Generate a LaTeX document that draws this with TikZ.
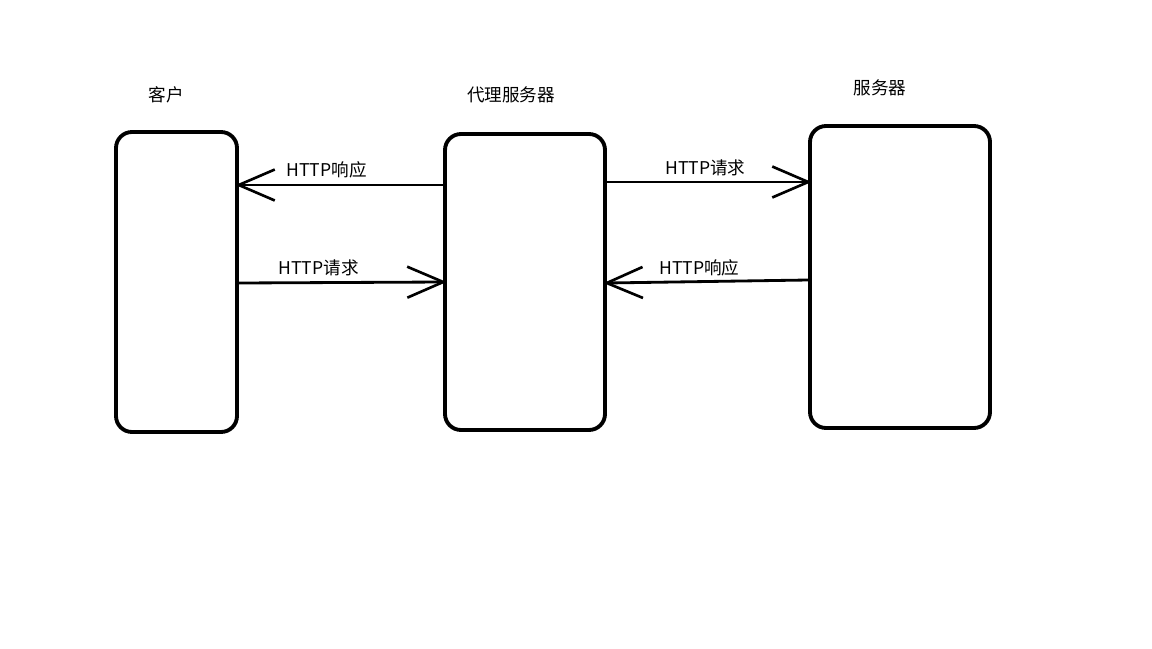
\documentclass[tikz,border=0pt]{standalone}
\usepackage{fontspec}
\setmainfont{Noto Sans CJK SC}
\usetikzlibrary{arrows.meta, positioning, calc}

\begin{document}
\begin{tikzpicture}[
    box/.style={draw, line width=2.2pt, rounded corners=0.32cm, inner sep=0pt},
    msg/.style={line width=1.6pt, shorten >=-2pt, -{Straight Barb[length=0.72cm, width=0.62cm, line width=1.5pt]}},
    lbl/.style={font=\fontsize{10}{12}\selectfont, inner sep=1pt}
]

        % Rahmen des Bildes
        \useasboundingbox (0,0) rectangle (23.04,-12.96);

        % Kästen
        \node[box, minimum width=2.42cm, minimum height=6.0cm] (client) at (3.53,-5.64) {};
        \node[box, minimum width=3.2cm, minimum height=5.92cm] (proxy) at (10.5,-5.64) {};
        \node[box, minimum width=3.6cm, minimum height=6.04cm] (server) at (18.0,-5.54) {};

        % Titel
        \node[lbl] (clientname) at (3.32,-1.9) {客户};
        \node[lbl] (proxyname) at (10.22,-1.9) {代理服务器};
        \node[lbl] (servername) at (17.6,-1.76) {服务器};

        % Nachrichten
        \draw[msg] (proxy.west |- 0,-3.7) -- node[lbl, above=2pt, pos=0.57] {HTTP响应} (client.east |- 0,-3.7);
        \draw[msg] (client.east |- 0,-5.66) -- node[lbl, above=2pt, pos=0.39] {HTTP请求} (proxy.west |- 0,-5.64);
        \draw[msg] (proxy.east |- 0,-3.64) -- node[lbl, above=1.5pt, pos=0.49] {HTTP请求} (server.west |- 0,-3.64);
        \draw[msg] (server.west |- 0,-5.6) -- node[lbl, above=1.5pt, pos=0.54] {HTTP响应} (proxy.east |- 0,-5.66);

\end{tikzpicture}
\end{document}
